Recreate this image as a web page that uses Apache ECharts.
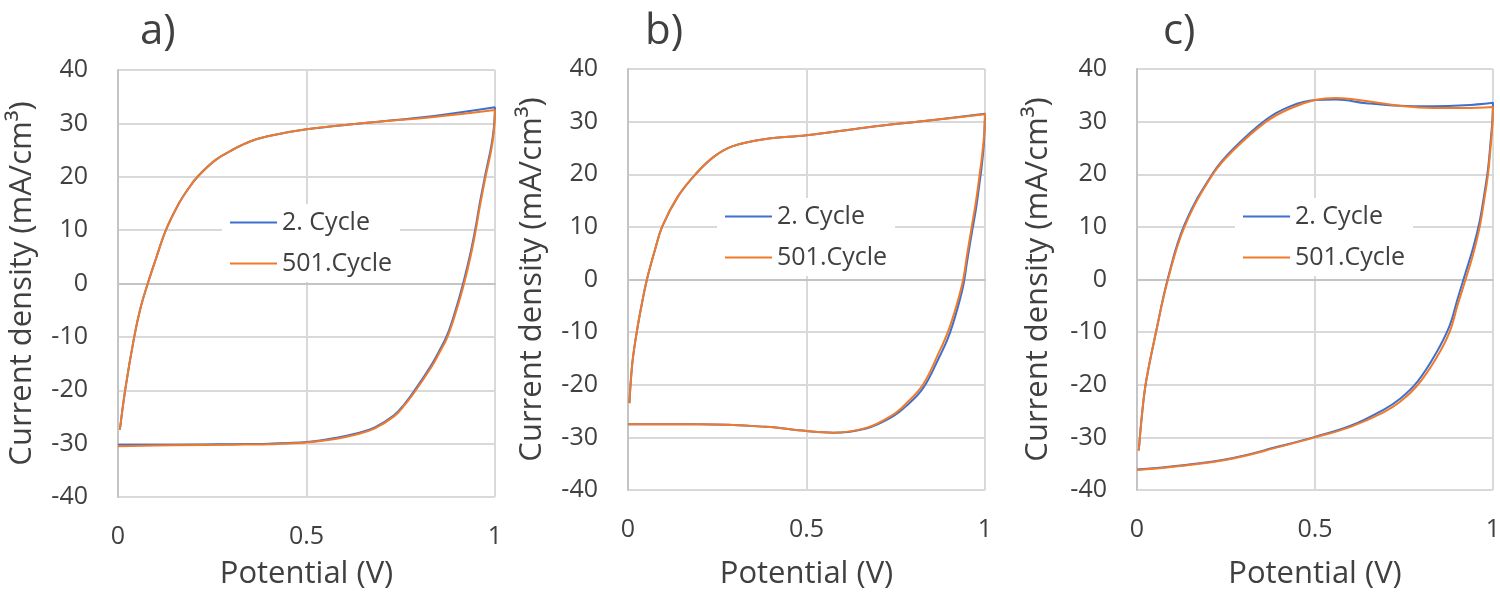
<!DOCTYPE html>
<html>
<head>
<meta charset="utf-8">
<script src="https://cdn.jsdelivr.net/npm/echarts@6/dist/echarts.min.js"></script>
<style>
  html, body { margin: 0; padding: 0; background: #fff; }
  #chart { width: 1500px; height: 593px; }
</style>
</head>
<body>
<div id="chart"></div>
<script>
// potential (V) sweep: forward then reverse
const potA = [0.005, 0.02, 0.043, 0.06, 0.079, 0.1, 0.127, 0.16, 0.185, 0.211, 0.26, 0.308, 0.35, 0.397, 0.5, 0.66, 0.838, 1.0,
  0.997, 0.99, 0.975, 0.96, 0.949, 0.935, 0.918, 0.9, 0.874, 0.85, 0.83, 0.79, 0.76, 0.732, 0.68, 0.626, 0.58, 0.5, 0.4, 0.308, 0.15, 0];
const cyc2A = [-27.4, -19.5, -10, -4.5, 0, 4.5, 10, 14.8, 17.6, 20, 23.2, 25.2, 26.6, 27.6, 28.9, 30.1, 31.4, 33.0,
  29.2, 25.7, 20.6, 15.2, 10.7, 5.7, 0.7, -3.9, -9.5, -12.9, -15.4, -19.7, -22.6, -24.7, -27.0, -28.2, -28.9, -29.7, -30.0, -30.1, -30.2, -30.2];
const cyc501A = [-27.4, -19.5, -10, -4.5, 0, 4.5, 10, 14.8, 17.6, 20, 23.2, 25.2, 26.6, 27.6, 28.9, 30.1, 31.2, 32.5,
  28.5, 25, 20, 14.5, 10, 5, 0, -4.5, -10, -13.3, -15.8, -20, -22.8, -24.9, -27.2, -28.4, -29.1, -29.8, -30.1, -30.2, -30.3, -30.5];

const potB = [0.004, 0.012, 0.025, 0.04, 0.053, 0.075, 0.096, 0.14, 0.189, 0.24, 0.292, 0.386, 0.5, 0.667, 0.855, 1.0,
  0.997, 0.99, 0.986, 0.975, 0.963, 0.95, 0.939, 0.92, 0.897, 0.87, 0.827, 0.78, 0.742, 0.667, 0.574, 0.5, 0.386, 0.199, 0];
const cyc2B = [-23.5, -16, -9.8, -4.2, 0, 5.5, 10.1, 15.8, 20, 23.3, 25.3, 26.7, 27.4, 28.9, 30.3, 31.5,
  26, 21, 19, 13.5, 8.8, 3.5, -1.2, -6.2, -11, -15, -20.6, -24, -26, -28.3, -29.1, -28.8, -28.0, -27.5, -27.5];
const cyc501B = [-23.5, -16, -9.8, -4.2, 0, 5.5, 10.1, 15.8, 20, 23.3, 25.3, 26.7, 27.4, 28.9, 30.3, 31.4,
  27, 22.5, 20.5, 15, 10.1, 4.8, 0, -5, -9.8, -14, -19.9, -23.5, -25.7, -28.2, -29.1, -28.8, -28.0, -27.5, -27.5];

const potC = [0.005, 0.015, 0.026, 0.054, 0.087, 0.134, 0.213, 0.27, 0.363, 0.43, 0.5, 0.56, 0.644, 0.738, 0.831, 0.92, 1.0,
  0.998, 0.993, 0.986, 0.975, 0.963, 0.945, 0.923, 0.9, 0.878, 0.84, 0.789, 0.74, 0.691, 0.6, 0.5, 0.4, 0.27, 0.129, 0];
const cyc2C = [-32.5, -25, -19.2, -9.8, 0.3, 10.5, 20.2, 24.8, 30.4, 32.9, 34.1, 34.2, 33.5, 33.0, 32.9, 33.1, 33.6,
  30, 26, 21, 16, 11.2, 6.2, 1.3, -3.8, -8.8, -14, -19.3, -22.6, -24.8, -27.8, -29.9, -31.7, -33.9, -35.3, -36.1];
const cyc501C = [-32.5, -25, -19.2, -9.8, 0, 10.1, 20, 24.5, 30, 32.5, 34.1, 34.5, 33.9, 33.0, 32.6, 32.6, 32.8,
  29, 25, 20, 15, 10.1, 5, 0, -5, -10, -15, -20, -23.2, -25.3, -28, -30, -31.8, -34, -35.4, -36.2];

const panelLabels = ["a)", "b)", "c)"];
const seriesNames = ["2. Cycle", "501.Cycle"];
const xTitle = "Potential (V)";
const yTitle = "Current density (mA/cm³)";

const txt = "#404040";
const font = "Open Sans";
const blue = "#3F70CF";
const orange = "#F07A2A";

const grids = [
  { left: 118, top: 70, width: 377, height: 427, outerBoundsMode: "none" },
  { left: 628, top: 69, width: 357, height: 421, outerBoundsMode: "none" },
  { left: 1137, top: 69, width: 356, height: 421, outerBoundsMode: "none" },
];
const yNameGap = [80, 80, 83];
const legendPos = [{ left: 222, top: 204 }, { left: 717, top: 198 }, { left: 1235, top: 198 }];
const titlePos = [135, 640, 1158];

const pairs = (xs, ys) => xs.map((x, i) => [x, ys[i]]);
const panels = [[potA, cyc2A, cyc501A], [potB, cyc2B, cyc501B], [potC, cyc2C, cyc501C]];

const myChart = echarts.init(document.getElementById("chart"));

const option = {
  backgroundColor: "#fff",
  animation: false,
  title: panelLabels.map((t, i) => ({
    text: t,
    left: titlePos[i],
    top: 6,
    textStyle: { fontFamily: font, fontSize: 42, fontWeight: "normal", color: txt },
  })),
  grid: grids,
  legend: legendPos.map((p, i) => ({
    left: p.left,
    top: p.top,
    orient: "vertical",
    data: seriesNames,
    icon: "rect",
    itemWidth: 47,
    itemHeight: 2,
    itemGap: 16,
    padding: [6, 8],
    backgroundColor: "#fff",
    textStyle: { fontFamily: font, fontSize: 25, color: txt },
  })),
  xAxis: grids.map((g, i) => ({
    type: "value",
    gridIndex: i,
    min: 0,
    max: 1,
    interval: 0.5,
    name: xTitle,
    nameLocation: "middle",
    nameGap: i === 0 ? 62 : 69,
    nameTextStyle: { fontFamily: font, fontSize: 31, color: txt },
    axisLine: { lineStyle: { color: "#c4c4c4", width: 2 } },
    axisTick: { show: false },
    axisLabel: { fontFamily: font, fontSize: 25, color: txt, margin: 27 },
    splitLine: { lineStyle: { color: "#d9d9d9", width: 2 } },
  })),
  yAxis: grids.map((g, i) => ({
    type: "value",
    gridIndex: i,
    min: -40,
    max: 40,
    interval: 10,
    name: yTitle,
    nameLocation: "middle",
    nameGap: yNameGap[i],
    nameTextStyle: { fontFamily: font, fontSize: 31, color: txt },
    axisLine: { show: true, lineStyle: { color: "#c4c4c4", width: 2 } },
    axisTick: { show: false },
    axisLabel: { fontFamily: font, fontSize: 25, color: txt, margin: 30 },
    splitLine: { lineStyle: { color: "#d9d9d9", width: 2 } },
  })),
  series: panels.flatMap((p, i) => [
    {
      name: seriesNames[0],
      type: "line",
      xAxisIndex: i,
      yAxisIndex: i,
      data: pairs(p[0], p[1]),
      symbol: "none",
      smooth: 0.4,
      color: blue,
      lineStyle: { color: blue, width: 2 },
    },
    {
      name: seriesNames[1],
      type: "line",
      xAxisIndex: i,
      yAxisIndex: i,
      data: pairs(p[0], p[2]),
      symbol: "none",
      smooth: 0.4,
      color: orange,
      lineStyle: { color: orange, width: 2 },
    },
  ]),
};

option && myChart.setOption(option);
</script>
</body>
</html>
